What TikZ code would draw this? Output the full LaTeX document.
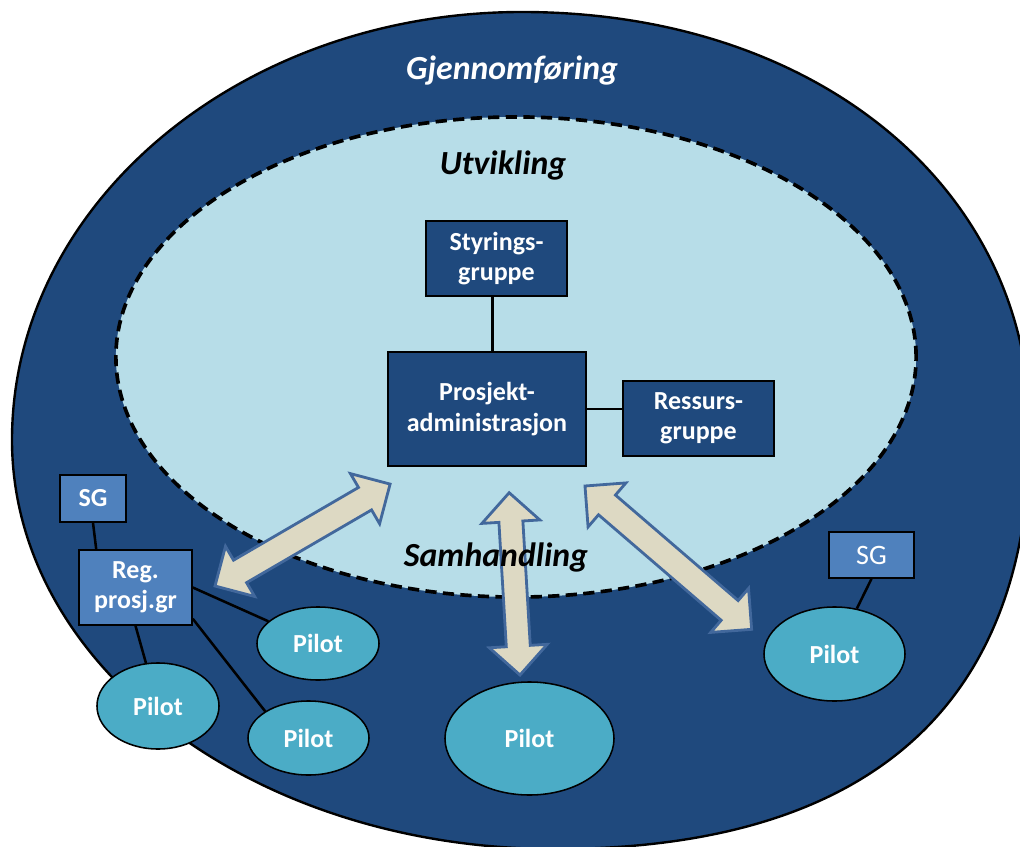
\documentclass[tikz,border=0pt]{standalone}
\usepackage{fontspec}
\setmainfont{Carlito}
\usetikzlibrary{calc,shapes.geometric}
\definecolor{navy}{RGB}{31,73,125}
\definecolor{lightin}{RGB}{183,221,232}
\definecolor{midblue}{RGB}{79,129,189}
\definecolor{pilotfill}{RGB}{75,172,198}
\definecolor{beige}{RGB}{221,217,195}
\definecolor{arrowedge}{RGB}{66,104,156}
\pgfdeclarelayer{back}
\pgfdeclarelayer{lines}
\pgfsetlayers{back,lines,main}
\begin{document}
\begin{tikzpicture}[x=0.025cm,y=-0.025cm,
  boxfont/.style={font=\fontsize{18.5}{21.5}\selectfont\bfseries},
  darkbox/.style={draw=black, line width=1.1pt, fill=navy, text=white, boxfont, align=center, inner sep=0pt},
  lightbox/.style={draw=black, line width=1.1pt, fill=midblue, text=white, align=center, inner sep=0pt},
  pilot/.style={ellipse, draw=black, line width=1.1pt, fill=pilotfill, text=white, boxfont, inner sep=0pt},
  link/.style={draw=black, line width=1.8pt},
  blockarrow/.style={fill=beige, draw=arrowedge, line width=2pt, line join=miter},
  zonelabel/.style={font=\fontsize{24}{28}\selectfont\bfseries\itshape, anchor=base}
]
\useasboundingbox (0,0) rectangle (1020,847);

% zones
\begin{pgfonlayer}{back}
\draw[fill=navy, line width=1.7pt] (12,440)
  .. controls (12,203.7) and (240.5,12) .. (522,12)
  .. controls (816.6,12) and (1030,187.6) .. (1030,430)
  .. controls (1030,708.5) and (866,849) .. (555,849)
  .. controls (255,849) and (12,667) .. (12,440) -- cycle;
\draw[fill=lightin, line width=2.6pt, dash pattern=on 8pt off 4.5pt] (516,357) ellipse [x radius=10cm, y radius=6cm];
\end{pgfonlayer}

% labels of zones
\node[zonelabel, text=white] (gj) at (512,80) {Gjennomføring};
\node[zonelabel] (ut) at (503,175) {Utvikling};

% organisation boxes
\node[darkbox, minimum width=3.525cm, minimum height=1.875cm] (styr) at (496.5,258.5) {Styrings-\\gruppe};
\node[darkbox, minimum width=4.95cm, minimum height=2.85cm] (prosj) at (487,409) {Prosjekt-\\administrasjon};
\node[darkbox, minimum width=3.775cm, minimum height=1.875cm] (ress) at (698.5,418.5) {Ressurs-\\gruppe};

\node[lightbox, boxfont, minimum width=1.65cm, minimum height=1.175cm] (sgl) at (93,498.5) {SG};
\node[lightbox, boxfont, minimum width=2.825cm, minimum height=1.875cm] (reg) at (135.5,587.5) {Reg.\\prosj.gr};
\node[lightbox, font=\fontsize{20}{24}\selectfont, minimum width=2.125cm, minimum height=1.15cm] (sgr) at (871.5,555) {SG};

% pilots
\node[pilot, minimum width=3.05cm, minimum height=1.825cm] (p1) at (318,643.5) {Pilot};
\node[pilot, minimum width=3.05cm, minimum height=2.15cm] (p2) at (158,706) {Pilot};
\node[pilot, minimum width=3.025cm, minimum height=1.85cm] (p3) at (308.5,738) {Pilot};
\node[pilot, minimum width=4.225cm, minimum height=2.825cm] (pb) at (529.5,738.5) {Pilot};
\node[pilot, minimum width=3.525cm, minimum height=2.35cm] (pr) at (834.5,654) {Pilot};

% connectors
\begin{pgfonlayer}{lines}
\draw[link] ($(styr.south)+(-4,0)$) -- ($(styr.south |- prosj.north)+(-4,0)$);
\draw[link] (prosj.east) -- (prosj.east -| ress.west);
\draw[link] (sgl.south) -- ($(reg.north west)+(18,0)$);
\draw[link] (reg.east) -- (p1);
\draw[link] ($(reg.south east)+(0,-7)$) -- (p3.north west);
\draw[link] (reg.south) -- (p2);
\draw[link] (sgr.south) -- (pr);
\end{pgfonlayer}

% interaction arrows
\coordinate (a1) at (215,586);
\coordinate (a2) at (520,675);
\coordinate (a3) at (585,486);
\begin{scope}[shift={(a1)}, rotate=30.2]
\draw[blockarrow] (0,0) -- (29,29) -- (29,13) -- (173.6,13) -- (173.6,29) -- (202.6,0)
  -- (173.6,-29) -- (173.6,-13) -- (29,-13) -- (29,-29) -- cycle;
\end{scope}
\begin{scope}[shift={(a2)}, rotate=93.4]
\draw[blockarrow] (0,0) -- (29,29) -- (29,12) -- (153.6,12) -- (153.6,29) -- (182.6,0)
  -- (153.6,-29) -- (153.6,-12) -- (29,-12) -- (29,-29) -- cycle;
\end{scope}
\begin{scope}[shift={(a3)}, rotate=-40.7]
\draw[blockarrow] (0,0) -- (29,29) -- (29,13) -- (190.8,13) -- (190.8,29) -- (219.8,0)
  -- (190.8,-29) -- (190.8,-13) -- (29,-13) -- (29,-29) -- cycle;
\end{scope}

\node[zonelabel] (sam) at (496,566) {Samhandling};
\end{tikzpicture}
\end{document}
